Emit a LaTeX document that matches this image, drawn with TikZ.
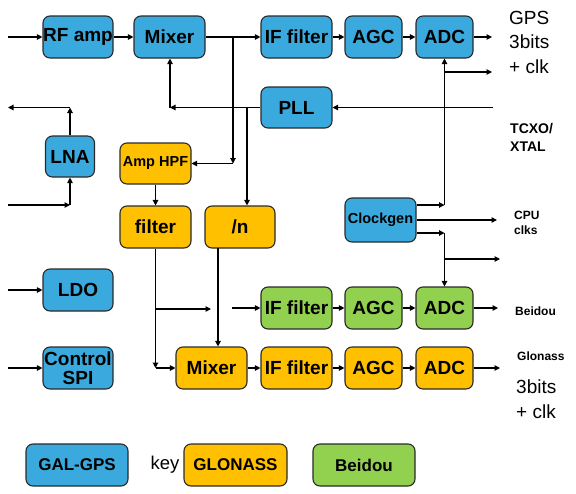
\documentclass[tikz,border=0pt]{standalone}
\usepackage{fontspec}
\setmainfont{Liberation Sans}
\usetikzlibrary{arrows.meta}
\definecolor{cblue}{HTML}{3AAADE}
\definecolor{corange}{HTML}{FFC000}
\definecolor{cgreen}{HTML}{92D050}
\definecolor{cedge}{HTML}{2A2A2A}
\begin{document}
\begin{tikzpicture}[x=1pt,y=-1pt,
  blk/.style={draw=cedge,line width=1.1pt,rounded corners=7pt,minimum height=42pt,inner sep=0pt,
    font=\fontsize{19}{21}\selectfont\bfseries,align=center},
  bluebox/.style={blk,fill=cblue},
  orbox/.style={blk,fill=corange},
  grbox/.style={blk,fill=cgreen},
  arr/.style={line width=1.1pt,-{Triangle[length=5.5pt,width=5.5pt]}},
  ln/.style={line width=1.1pt},
  lbl/.style={inner sep=0pt,align=left}]
\useasboundingbox (0,0) rectangle (576,493);
% row 1
\node[bluebox,minimum width=70pt] (rf) at (78,37) {RF amp};
\node[bluebox,minimum width=71pt] (mix1) at (169.5,37) {Mixer};
\node[bluebox,minimum width=71pt] (if1) at (296.5,37) {IF filter};
\node[bluebox,minimum width=57pt] (agc1) at (373.5,37) {AGC};
\node[bluebox,minimum width=57pt] (adc1) at (444.5,37) {ADC};
\node[bluebox,minimum width=71pt,minimum height=41pt] (pll) at (296.5,107.5) {PLL};
\node[bluebox,minimum width=49pt,minimum height=41pt] (lna) at (70,156.5) {LNA};
\node[orbox,minimum width=71pt,minimum height=41pt,font=\fontsize{14.5}{16}\selectfont\bfseries] (hpf) at (155.5,163.5) {Amp HPF};
\node[orbox,minimum width=71pt] (filt) at (155.5,227) {filter};
\node[orbox,minimum width=70pt] (divn) at (240,227) {/n};
\node[bluebox,minimum width=70pt] (ldo) at (78,290) {LDO};
\node[bluebox,minimum width=71pt,minimum height=44pt,font=\fontsize{14.5}{16}\selectfont\bfseries] (clk) at (380.5,220) {Clockgen};
\node[grbox,minimum width=71pt] (if2) at (296.5,308) {IF filter};
\node[grbox,minimum width=57pt] (agc2) at (373.5,308) {AGC};
\node[grbox,minimum width=57pt] (adc2) at (444.5,308) {ADC};
\node[bluebox,minimum width=70pt] (ctrl) at (78,368) {Control\\[-2pt]SPI};
\node[orbox,minimum width=71pt] (mix2) at (211.5,368) {Mixer};
\node[orbox,minimum width=71pt] (if3) at (296.5,368) {IF filter};
\node[orbox,minimum width=57pt] (agc3) at (373.5,368) {AGC};
\node[orbox,minimum width=57pt] (adc3) at (444.5,368) {ADC};
% key
\node[bluebox,minimum width=102pt,font=\fontsize{17}{19}\selectfont\bfseries] (kgal) at (77,465) {GAL-GPS};
\node[inner sep=0pt,font=\fontsize{18.5}{20}\selectfont] (key) at (165,465) {key};
\node[orbox,minimum width=103pt,font=\fontsize{17}{19}\selectfont\bfseries] (kglo) at (235.5,465) {GLONASS};
\node[grbox,minimum width=102pt,font=\fontsize{17}{19}\selectfont\bfseries] (kbei) at (364,465) {Beidou};
% labels
\node[lbl,anchor=north west,font=\fontsize{19}{24.5}\selectfont] (gpsl) at (509,11) {GPS\\3bits\\+ clk};
\node[lbl,anchor=north west,font=\fontsize{14}{18}\selectfont\bfseries] (tcxo) at (510,123) {TCXO/\\XTAL};
\node[lbl,anchor=north west,font=\fontsize{12}{15}\selectfont\bfseries] (cpul) at (514,211) {CPU\\clks};
\node[lbl,anchor=west,font=\fontsize{12}{14}\selectfont\bfseries] (beil) at (515,311) {Beidou};
\node[lbl,anchor=west,font=\fontsize{12}{14}\selectfont\bfseries] (glol) at (517,356) {Glonass};
\node[lbl,anchor=north west,font=\fontsize{19}{25}\selectfont] (glob) at (516,380) {3bits\\+ clk};
% coordinates
\coordinate (rfin) at (8,37);
\coordinate (mj) at (233,37);
\coordinate (mjd) at (233,163.5);
\coordinate (gpsout) at (492,37);
\coordinate (pllin) at (493,107.5);
\coordinate (pllc) at (170,107.5);
\coordinate (pllbr) at (247,107.5);
\coordinate (lnaup) at (70,107.5);
\coordinate (lnaout) at (8,107.5);
\coordinate (lnain) at (8,205);
\coordinate (lnac) at (70,205);
\coordinate (ldoin) at (8,290);
\coordinate (ctrlin) at (8,368);
\coordinate (fc) at (155.5,368);
\coordinate (fbr) at (155.5,309);
\coordinate (fbre) at (211,309);
\coordinate (gbs) at (232,308);
\coordinate (nt) at (218,248);
\coordinate (c1) at (416.5,205);
\coordinate (c1c) at (444.5,205);
\coordinate (c1br) at (444.5,72);
\coordinate (c1bre) at (492,72);
\coordinate (c2) at (416.5,220);
\coordinate (c2e) at (497,220);
\coordinate (c3) at (416.5,233);
\coordinate (c3c) at (444.5,233);
\coordinate (c3br) at (444.5,259);
\coordinate (c3bre) at (500,259);
\coordinate (beiout) at (498,308);
\coordinate (gloout) at (500,368);
% connectors row 1
\draw[arr] (rfin) -- (rf);
\draw[arr] (rf) -- (mix1);
\draw[arr] (mix1) -- (if1);
\draw[arr] (if1) -- (agc1);
\draw[arr] (agc1) -- (adc1);
\draw[arr] (adc1) -- (gpsout);
\draw[arr] (mj) -- (mjd);
\draw[arr] (mjd) -- (hpf.east);
% PLL
\draw[arr] (pllin) -- (pll.east);
\draw[arr] (pll.west) -- (pllc);
\draw[arr] (pllc) -- (pllc |- mix1.south);
\draw[arr] (pllbr) -- (pllbr |- divn.north);
% LNA
\draw[arr] (lna.north -| lnaup) -- (lnaup);
\draw[arr] (lnaup) -- (lnaout);
\draw[arr] (lnain) -- (lnac);
\draw[arr] (lnac) -- (lna.south -| lnac);
\draw[arr] (ldoin) -- (ldo);
\draw[arr] (ctrlin) -- (ctrl);
% glonass chain
\draw[arr] (hpf) -- (filt);
\draw[arr] (filt.south) -- (fc);
\draw[arr] (fc) -- (mix2.west);
\draw[arr] (fbr) -- (fbre);
\draw[arr] (gbs) -- (if2.west);
\draw[arr] (nt) -- (nt |- mix2.north);
\draw[arr] (mix2) -- (if3);
\draw[arr] (if3) -- (agc3);
\draw[arr] (agc3) -- (adc3);
\draw[arr] (adc3) -- (gloout);
% beidou chain
\draw[arr] (if2) -- (agc2);
\draw[arr] (agc2) -- (adc2);
\draw[arr] (adc2) -- (beiout);
% clockgen
\draw[arr] (c1) -- (c1c);
\draw[arr] (c1c) -- (adc1.south);
\draw[arr] (c1br) -- (c1bre);
\draw[arr] (c2) -- (c2e);
\draw[arr] (c3) -- (c3c);
\draw[arr] (c3c) -- (adc2.north);
\draw[arr] (c3br) -- (c3bre);
\end{tikzpicture}
\end{document}
